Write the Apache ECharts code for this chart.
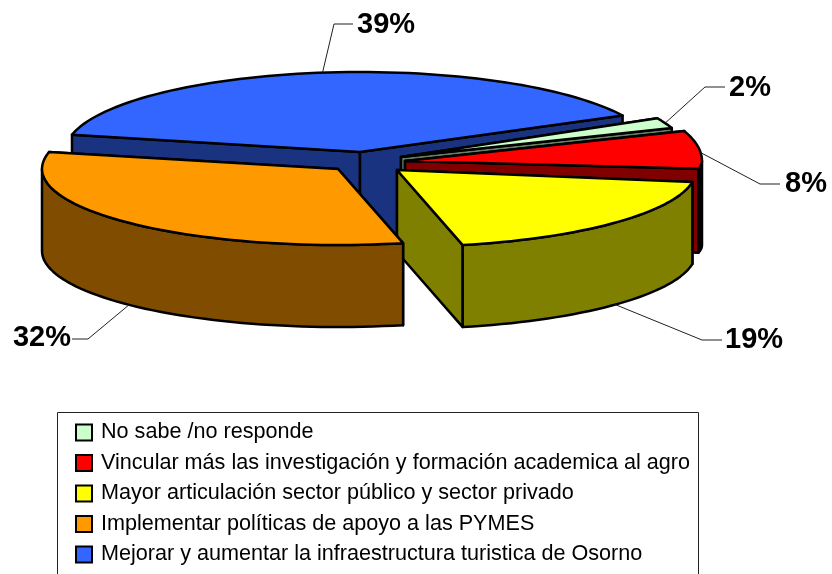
<!DOCTYPE html>
<html>
<head>
<meta charset="utf-8">
<style>
  html, body { margin: 0; padding: 0; background: #fff; }
  #chart { width: 832px; height: 574px; }
</style>
</head>
<body>
<div id="chart"></div>
<script src="https://cdn.jsdelivr.net/npm/echarts@6/dist/echarts.min.js"></script>
<script>
const categories = [
  'No sabe /no responde',
  'Vincular más las investigación y formación academica al agro',
  'Mayor articulación sector público y sector privado',
  'Implementar políticas de apoyo a las PYMES',
  'Mejorar y aumentar la infraestructura turistica de Osorno',
]
const values = [2, 8, 19, 32, 39]

const topColors = ['#CCFFCC', '#FF0000', '#FFFF00', '#FF9900', '#3366FF']
const wallColors = ['#668066', '#800000', '#808000', '#804C00', '#1A3380']
const outerWallColors = ['#668066', '#000000', '#808000', '#804C00', '#1A3380']

// exploded apex of each slice, its ellipse and where its label sits
const apexes = [[401, 157], [405, 161], [397, 170], [338, 169], [360, 152]]
const radii = [
  { rx: 288, back: 85, front: 85, depth: 82 },
  { rx: 297, back: 88, front: 50, depth: 84 },
  { rx: 299, back: 78, front: 77, depth: 82 },
  { rx: 296, back: 78, front: 76, depth: 82 },
  { rx: 295, back: 80, front: 80, depth: 92 },
]
const labelLines = [
  { elbow: [705, 87], end: [725, 87], text: [729, 88], align: 'left' },
  { elbow: [760, 184], end: [780, 184], text: [785, 184], align: 'left' },
  { elbow: [702, 340], end: [722, 340], text: [725, 340], align: 'left' },
  { elbow: [88, 339], end: [72, 339], text: [71, 338], align: 'right' },
  { elbow: [334, 24], end: [353, 24], text: [357, 25], align: 'left' },
]

const START_ANGLE = 62.9
const drawOrder = [4, 0, 1, 2, 3]

const total = values.reduce((a, b) => a + b, 0)
const startAngles = []
values.reduce((acc, v, i) => {
  startAngles[i] = acc
  return acc + v / total * 360
}, START_ANGLE)

const edgePoint = (i, deg, drop) => {
  const r = deg * Math.PI / 180
  const c = Math.cos(r)
  const size = radii[i]
  return [
    apexes[i][0] + Math.sin(r) * size.rx,
    apexes[i][1] - c * (c > 0 ? size.back : size.front) + drop,
  ]
}

const arcPoints = (i, a0, a1, drop) => {
  const pts = []
  const steps = Math.max(2, Math.ceil((a1 - a0) / 2))
  for (let k = 0; k <= steps; k++) {
    pts.push(edgePoint(i, a0 + (a1 - a0) * k / steps, drop))
  }
  return pts
}

const poly = (points, fill) => ({
  type: 'polygon',
  shape: { points },
  style: { fill, stroke: '#000', lineWidth: 2.5, lineJoin: 'round' },
})

const renderSlice = (i) => () => {
  const apex = apexes[i]
  const depth = radii[i].depth
  const a0 = startAngles[i]
  const a1 = a0 + values[i] / total * 360
  const under = [apex[0], apex[1] + depth]
  const wall = wallColors[i]
  const children = []

  // cut faces
  ;[a0, a1].forEach((a) => {
    children.push(poly([apex, edgePoint(i, a, 0), edgePoint(i, a, depth), under], wall))
  })

  // outer wall, only the front half of the ellipse shows
  const w0 = Math.max(a0, 90)
  const w1 = Math.min(a1, 270)
  if (w1 > w0) {
    const upper = arcPoints(i, w0, w1, 0)
    const lower = arcPoints(i, w0, w1, depth).reverse()
    children.push(poly(upper.concat(lower), outerWallColors[i]))
  }

  // top face
  children.push(poly([apex].concat(arcPoints(i, a0, a1, 0)), topColors[i]))

  // leader line and label
  const mid = (a0 + a1) / 2
  const midCos = Math.cos(mid * Math.PI / 180)
  const from = edgePoint(i, mid, midCos < 0 ? depth : 0)
  const line = labelLines[i]
  children.push({
    type: 'polyline',
    shape: { points: [from, line.elbow, line.end] },
    style: { fill: 'none', stroke: '#222', lineWidth: 1 },
  })
  children.push({
    type: 'text',
    style: {
      x: line.text[0],
      y: line.text[1],
      text: values[i] + '%',
      fill: '#000',
      font: 'bold 29px "Liberation Sans", Arial, sans-serif',
      align: line.align,
      verticalAlign: 'middle',
    },
  })
  return { type: 'group', children }
}

const chart = echarts.init(document.getElementById('chart'))

chart.setOption({
  animation: false,
  backgroundColor: '#fff',
  graphic: [
    {
      type: 'rect',
      shape: { x: 57.5, y: 412.5, width: 641, height: 180 },
      style: { fill: '#fff', stroke: '#222', lineWidth: 1 },
      z: -1,
    },
  ],
  legend: {
    orient: 'vertical',
    left: 75,
    top: 421,
    padding: 0,
    data: categories,
    icon: 'rect',
    itemWidth: 16,
    itemHeight: 16,
    itemGap: 7.5,
    selectedMode: false,
    itemStyle: { borderColor: '#000', borderWidth: 2 },
    textStyle: {
      color: '#000',
      fontFamily: '"Liberation Sans", Arial, sans-serif',
      fontSize: 21.6,
      lineHeight: 23,
      padding: [0, 0, 0, 4],
    },
  },
  series: drawOrder.map((i, order) => ({
    type: 'custom',
    name: categories[i],
    coordinateSystem: 'none',
    z: 2 + order,
    silent: true,
    itemStyle: { color: topColors[i] },
    data: [values[i]],
    renderItem: renderSlice(i),
  })),
})

window.addEventListener('resize', () => chart.resize())
</script>
</body>
</html>
